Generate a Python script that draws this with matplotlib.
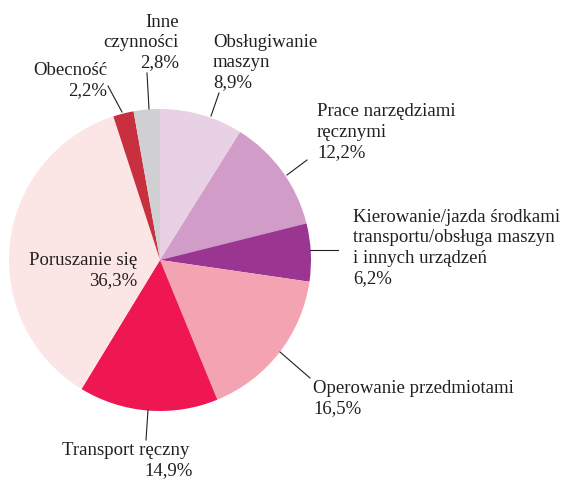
import matplotlib.pyplot as plt

# udział czynności wykonywanych w chwili wypadku (%)
labels = [
    "Obsługiwanie\nmaszyn",
    "Prace narzędziami\nręcznymi",
    "Kierowanie/jazda środkami\ntransportu/obsługa maszyn\ni innych urządzeń",
    "Operowanie przedmiotami",
    "Transport ręczny",
    "Poruszanie się",
    "Obecność",
    "Inne\nczynności",
]
values = [8.9, 12.2, 6.2, 16.5, 14.9, 36.3, 2.2, 2.8]
colors = ["#E8D0E5", "#D19CC8", "#9A3591", "#F4A3B3",
          "#EE1752", "#FCE5E5", "#C8303F", "#D0D0D2"]

W, H = 561, 479
fig = plt.figure(figsize=(W / 100, H / 100), dpi=100)
ax = fig.add_axes([0, 0, 1, 1])

# oś w pikselach, y w dół -> startangle=-90 i counterclock=True dają ruch wskazówek zegara od góry
ax.pie(values, colors=colors, startangle=-90, counterclock=True,
       center=(160, 260), radius=151, wedgeprops=dict(linewidth=0))
ax.set_xlim(0, W)
ax.set_ylim(H, 0)
ax.set_aspect("equal")
ax.axis("off")

# va="baseline" -> y to linia bazowa ostatniej linii tekstu
txt = dict(fontsize=13.5, family="Liberation Serif", color="#231F20",
           va="baseline", linespacing=1.25)


def pct(v):
    return f"{v:.1f}%".replace(".", ",")


# (x, y ostatniej linii bazowej, wyrównanie)
label_pos = [
    (213, 87, "left"),
    (317, 157, "left"),
    (353, 283, "left"),
    (313, 413, "left"),
    None,
    (137, 285, "right"),
    (107, 95, "right"),
    (179, 67, "right"),
]
for lab, v, pos in zip(labels, values, label_pos):
    if pos is None:
        continue
    x, y, ha = pos
    ax.text(x, y, lab + "\n" + pct(v), ha=ha, **txt)

# Transport ręczny - procent przesunięty w prawo
ax.text(62, 455, labels[4], ha="left", **txt)
ax.text(193, 475, pct(values[4]), ha="right", **txt)

# linie odniesienia
leaders = [
    ((219, 93), (211, 116)),
    ((287, 175), (307, 160)),
    ((310, 250), (338, 250)),
    ((280, 352), (310, 378)),
    ((148, 410), (146, 440)),
    ((108, 86), (122, 112)),
    ((147, 73), (149, 109)),
]
for (x0, y0), (x1, y1) in leaders:
    ax.plot([x0, x1], [y0, y1], color="#231F20", linewidth=0.8)

fig.savefig("out.png", dpi=100)
